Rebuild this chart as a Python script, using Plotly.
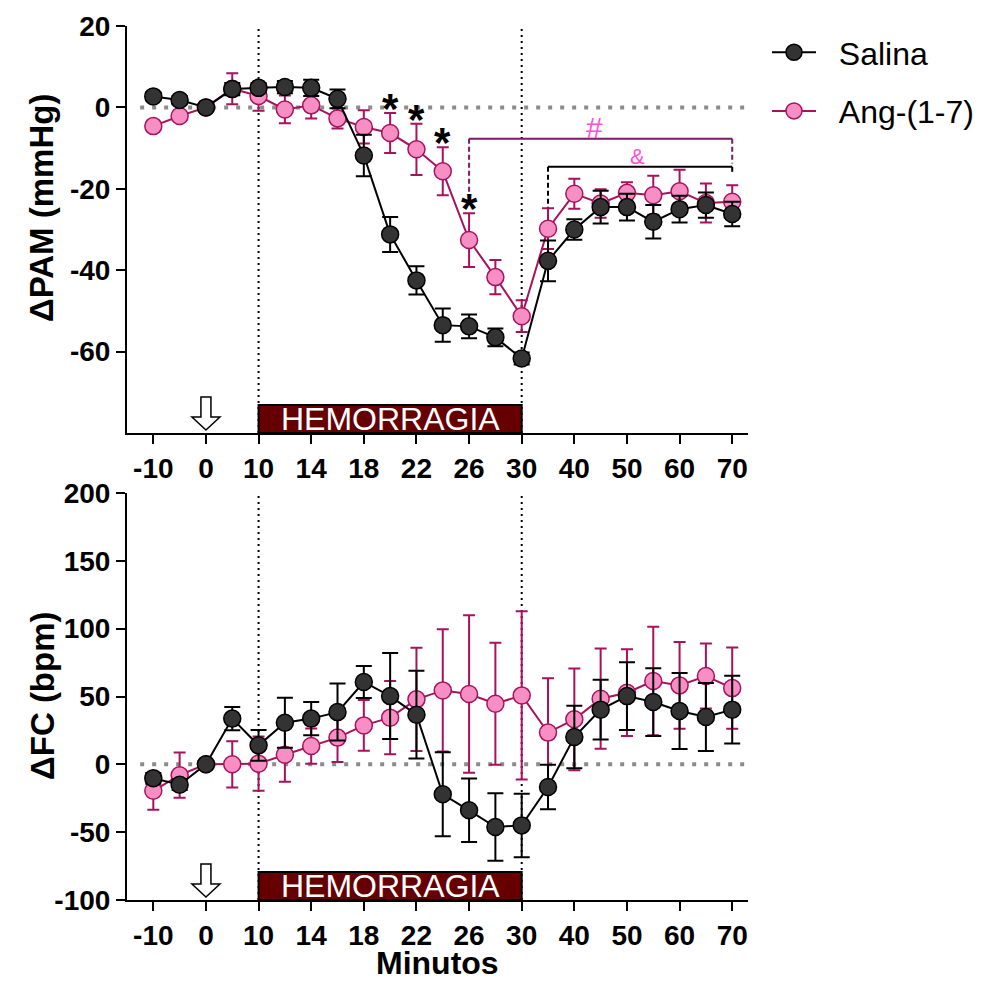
import plotly.graph_objects as go

# ---------------- data ----------------
minutes = [-10, -5, 0, 5, 10, 12, 14, 16, 18, 20, 22, 24, 26, 28, 30, 35, 40, 45, 50, 55, 60, 65, 70]
tick_minutes = [-10, 0, 10, 14, 18, 22, 26, 30, 40, 50, 60, 70]
pam_ticks = [-60, -40, -20, 0, 20]
fc_ticks = [-100, -50, 0, 50, 100, 150, 200]

pam_salina = [2.7, 1.8, 0.0, 4.5, 4.8, 5.0, 4.8, 2.1, -11.8, -31.2, -42.5, -53.5, -53.8, -56.5, -61.7,
              -37.7, -30.0, -24.5, -24.5, -28.1, -25.0, -24.0, -26.2]
pam_salina_sem = [1.0, 1.0, 0.0, 1.5, 1.2, 1.5, 2.0, 2.3, 5.1, 4.3, 3.5, 4.1, 2.9, 2.2, 1.5,
                  5.0, 2.5, 4.0, 3.3, 4.1, 3.3, 3.1, 3.0]
pam_ang = [-4.6, -2.1, 0.0, 4.6, 2.8, -0.5, 0.5, -2.7, -4.8, -6.3, -10.3, -15.7, -32.6, -41.7, -51.3,
           -29.8, -21.2, -23.6, -21.0, -21.6, -20.6, -23.5, -23.2]
pam_ang_sem = [1.0, 1.0, 0.0, 3.8, 3.6, 3.4, 3.2, 2.5, 4.1, 4.9, 6.3, 5.9, 6.6, 4.2, 3.9,
               5.0, 3.7, 3.5, 2.6, 4.8, 5.3, 4.8, 4.1]

fc_salina = [-10.3, -15.0, 0.0, 33.7, 14.0, 30.7, 33.7, 38.5, 60.7, 50.3, 36.6, -22.1, -33.9, -46.2, -45.0,
             -16.7, 20.1, 40.3, 50.3, 45.9, 39.3, 34.9, 40.3]
fc_salina_sem = [4, 4, 0, 8.6, 11.3, 18.4, 12.3, 21, 11.8, 31.7, 32.3, 31, 23.4, 24.8, 23.4,
                 16.4, 23, 22, 25, 25, 28, 25, 25]
fc_ang = [-19.5, -8.0, 0.0, 0.0, 0.5, 7.1, 13.5, 19.7, 28.7, 34.4, 47.9, 54.5, 51.8, 44.7, 50.8,
          23.4, 33.2, 48.4, 52.8, 61.4, 58.2, 65.1, 56.2]
fc_ang_sem = [14, 16.7, 0, 17, 20, 20, 13, 18, 18.7, 27, 38, 45, 58, 45, 62,
              40, 37.5, 37, 32, 40, 32, 24, 30]

star_minutes = [20, 22, 24, 26]

# ---------------- geometry / styles ----------------
pos = list(range(len(minutes)))
tick_pos = [minutes.index(m) for m in tick_minutes]
P = lambda m: minutes.index(m)

OFF = 8                      # default page body margin
W, H = 989 - OFF, 983 - OFF  # figure size so that it fits the window
fx = lambda px: (px - OFF) / W          # screen px -> paper x
fy = lambda py: 1 - (py - OFF) / H      # screen px -> paper y

xdom = [fx(127), fx(748)]
ydom_top = [fy(433), fy(26)]
ydom_bot = [fy(900), fy(493)]

BLACK_FILL = "#333333"
PINK_FILL = "#F78FC4"
PINK_LINE = "#A8125C"
BRACKET_PURPLE = "#7A1A6A"
SIGN_PINK = "#FF4FD8"
BOX_RED = "#660000"

FONT = "Arial, Liberation Sans, sans-serif"

fig = go.Figure()


def add_series(y, sem, xa, ya, name, show):
    is_sal = name == "Salina"
    fig.add_trace(go.Scatter(
        x=pos, y=y, xaxis=xa, yaxis=ya, name="\u00a0\u00a0" + name,
        mode="lines+markers",
        line=dict(color="black" if is_sal else PINK_LINE, width=2),
        marker=dict(size=17, color=BLACK_FILL if is_sal else PINK_FILL,
                    line=dict(color="black" if is_sal else PINK_LINE, width=1.5)),
        error_y=dict(type="data", array=sem, visible=True,
                     color="black" if is_sal else PINK_LINE,
                     thickness=2, width=8 if is_sal else 6),
        showlegend=show, legendgroup=name, legendrank=1 if is_sal else 2,
    ))


# Ang first so Salina draws on top
add_series(pam_ang, pam_ang_sem, "x", "y", "Ang-(1-7)", True)
add_series(pam_salina, pam_salina_sem, "x", "y", "Salina", True)
add_series(fc_ang, fc_ang_sem, "x2", "y2", "Ang-(1-7)", False)
add_series(fc_salina, fc_salina_sem, "x2", "y2", "Salina", False)

tickfont = dict(family=FONT, size=28, color="black", weight="bold")
xcommon = dict(range=[-1, 22.6], tickmode="array", tickvals=tick_pos, ticktext=[str(m) for m in tick_minutes],
               ticks="outside", ticklen=9, tickwidth=2, tickcolor="black",
               showline=True, linewidth=2, linecolor="black", showgrid=False, zeroline=False,
               tickfont=tickfont, domain=xdom, fixedrange=True, automargin=False)
ycommon = dict(ticks="outside", ticklen=9, tickwidth=2, tickcolor="black", tickmode="array",
               showline=True, linewidth=2, linecolor="black", showgrid=False, zeroline=False,
               tickfont=tickfont, fixedrange=True, automargin=False)

fig.update_layout(
    width=W, height=H,
    margin=dict(l=0, r=0, t=0, b=0),
    paper_bgcolor="white", plot_bgcolor="white",
    xaxis=dict(anchor="y", **xcommon),
    yaxis=dict(anchor="x", domain=ydom_top, range=[-80, 20], tickvals=pam_ticks,
               ticktext=[str(v) for v in pam_ticks], **ycommon),
    xaxis2=dict(anchor="y2", **xcommon),
    yaxis2=dict(anchor="x2", domain=ydom_bot, range=[-100, 200], tickvals=fc_ticks,
                ticktext=[str(v) for v in fc_ticks], **ycommon),
    legend=dict(x=fx(767), y=fy(25), xanchor="left", yanchor="top",
                font=dict(family=FONT, size=32, color="black"),
                tracegroupgap=14, itemwidth=44, bgcolor="rgba(0,0,0,0)"),
)

shapes = []
annotations = []

for xa, ya, ybot, ytop in [("x", "y", -80, 20), ("x2", "y2", -100, 200)]:
    # zero reference dotted line
    shapes.append(dict(type="line", xref=xa, yref=ya, x0=-0.5, x1=22.6, y0=0, y1=0,
                       line=dict(color="#8C8C8C", width=4, dash="4px,8px"), layer="below"))
    # hemorrhage boundaries
    for m in (10, 30):
        shapes.append(dict(type="line", xref=xa, yref=ya, x0=P(m), x1=P(m), y0=ybot, y1=ytop,
                           line=dict(color="black", width=2, dash="2px,4px"), layer="below"))
    # hemorrhage box
    shapes.append(dict(type="rect", xref=xa, yref=ya, ysizemode="pixel", yanchor=ybot,
                       x0=P(10), x1=P(30), y0=0, y1=28,
                       fillcolor=BOX_RED, line=dict(color="black", width=2), layer="above"))
    annotations.append(dict(xref=xa, yref=ya, x=(P(10) + P(30)) / 2, y=ybot, yanchor="middle",
                            yshift=14, text="HEMORRAGIA", showarrow=False,
                            font=dict(family=FONT, size=32, color="white")))
    # injection arrow (hollow)
    shapes.append(dict(type="path", xref=xa, yref=ya, xsizemode="pixel", ysizemode="pixel",
                       xanchor=P(0), yanchor=ybot,
                       path="M -5,36 L 5,36 L 5,16 L 14,16 L 0,3 L -14,16 L -5,16 Z",
                       fillcolor="white", line=dict(color="black", width=1.5), layer="above"))

# significance brackets (top panel)
def bracket(m0, m1, ylev, yl, yr, color):
    shapes.append(dict(type="line", xref="x", yref="y", x0=P(m0), x1=P(m1), y0=ylev, y1=ylev,
                       line=dict(color=color, width=2)))
    shapes.append(dict(type="line", xref="x", yref="y", x0=P(m0), x1=P(m0), y0=ylev, y1=yl,
                       line=dict(color=color, width=2, dash="5px,3px")))
    shapes.append(dict(type="line", xref="x", yref="y", x0=P(m1), x1=P(m1), y0=ylev, y1=yr,
                       line=dict(color=color, width=2, dash="5px,3px")))

bracket(26, 70, -7.7, -21.4, -13.8, BRACKET_PURPLE)
bracket(35, 70, -14.6, -24.6, -16.2, "black")
annotations.append(dict(xref="x", yref="y", x=16.76, y=-5.0, yanchor="middle", text="#",
                        showarrow=False, font=dict(family=FONT, size=30, color=SIGN_PINK)))
annotations.append(dict(xref="x", yref="y", x=18.4, y=-12.0, yanchor="middle", text="&amp;",
                        showarrow=False, font=dict(family=FONT, size=22, color=SIGN_PINK)))

for m in star_minutes:
    i = P(m)
    annotations.append(dict(xref="x", yref="y", x=i, y=pam_ang[i] + pam_ang_sem[i], yanchor="bottom",
                            yshift=-21, text="*", showarrow=False,
                            font=dict(family=FONT, size=42, color="black", weight="bold")))

# axis titles
title_font = dict(family=FONT, size=33, color="black", weight="bold")
annotations.append(dict(xref="paper", yref="paper", x=fx(42), y=fy(208), text="ΔPAM (mmHg)",
                        textangle=-90, showarrow=False, font=title_font, xanchor="center", yanchor="middle"))
annotations.append(dict(xref="paper", yref="paper", x=fx(42), y=fy(696), text="ΔFC (bpm)",
                        textangle=-90, showarrow=False, font=title_font, xanchor="center", yanchor="middle"))
annotations.append(dict(xref="paper", yref="paper", x=fx(437), y=0, text="Minutos",
                        showarrow=False, font=dict(family=FONT, size=32, color="black", weight="bold"),
                        xanchor="center", yanchor="bottom"))

fig.update_layout(shapes=shapes, annotations=annotations)
fig.write_html("out.html")
